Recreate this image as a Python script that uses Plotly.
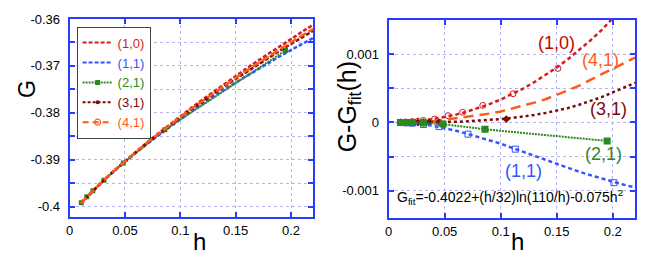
import plotly.graph_objects as go

# ---------------- data ----------------
h_grid = [0.01, 0.02, 0.03, 0.04, 0.05, 0.06, 0.07, 0.08, 0.09, 0.10, 0.11,
          0.12, 0.13, 0.14, 0.15, 0.16, 0.17, 0.18, 0.19, 0.20, 0.21, 0.22]

# left panel: G(h)
G_10 = [-0.399297, -0.396835, -0.394545, -0.392371, -0.390283, -0.388266, -0.386309,
        -0.384404, -0.382546, -0.380729, -0.378950, -0.377206, -0.375494, -0.373812,
        -0.372157, -0.370530, -0.368926, -0.367346, -0.365787, -0.364250, -0.362733, -0.361233]
G_11 = [-0.399300, -0.396857, -0.394598, -0.392471, -0.390442, -0.388501, -0.386633,
        -0.384824, -0.383075, -0.381375, -0.379732, -0.378132, -0.376574, -0.375054,
        -0.373571, -0.372125, -0.370703, -0.369314, -0.367958, -0.366633, -0.365330, -0.364055]
G_31 = [-0.399300, -0.396847, -0.394573, -0.392419, -0.390357, -0.388371, -0.386451,
        -0.384588, -0.382778, -0.381015, -0.379296, -0.377617, -0.375974, -0.374364,
        -0.372791, -0.371245, -0.369723, -0.368234, -0.366768, -0.365323, -0.363910, -0.362525]
G_41 = [-0.399300, -0.396843, -0.394563, -0.392401, -0.390322, -0.388321, -0.386378,
        -0.384504, -0.382685, -0.380905, -0.379162, -0.377462, -0.375794, -0.374164,
        -0.372561, -0.370985, -0.369443, -0.367924, -0.366438, -0.364973, -0.363550, -0.362155]
h_21 = [0.0105, 0.0155, 0.021, 0.031, 0.0485, 0.086, 0.195]
G_21 = [-0.399171, -0.397923, -0.396615, -0.394359, -0.390689, -0.383629, -0.366717]

# right panel: G - G_fit(h), smooth curves on h_grid
D_10 = [0.000003, 0.000012, 0.000028, 0.00005, 0.000079, 0.000115, 0.000159, 0.00021,
        0.000269, 0.000336, 0.000412, 0.000496, 0.00059, 0.000692, 0.000804, 0.000925,
        0.001057, 0.001198, 0.001351, 0.001513, 0.001687, 0.001872]
D_11 = [0, -0.00001, -0.000025, -0.00005, -0.00008, -0.00012, -0.000165, -0.00021,
        -0.00026, -0.00031, -0.00037, -0.00043, -0.00049, -0.00055, -0.00061, -0.00067,
        -0.00072, -0.00077, -0.00082, -0.00087, -0.00091, -0.00095]
D_31 = [0, 0, 0, 0.000002, 0.000005, 0.00001, 0.000017, 0.000026, 0.000037, 0.00005,
        0.000066, 0.000085, 0.00011, 0.00014, 0.00017, 0.00021, 0.00026, 0.00031,
        0.00037, 0.00044, 0.00051, 0.00058]
D_41 = [0, 0.000004, 0.00001, 0.00002, 0.00004, 0.00006, 0.00009, 0.00011, 0.00013,
        0.00016, 0.0002, 0.00024, 0.00029, 0.00034, 0.0004, 0.00047, 0.00054, 0.00062,
        0.0007, 0.00079, 0.00087, 0.00095]
D_21 = [0, 0, -0.000002, -0.000006, -0.000024, -0.0001, -0.00027]

# right panel: data points
hp_10 = [0.0105, 0.0155, 0.021, 0.026, 0.031, 0.041, 0.053, 0.066, 0.084, 0.111, 0.151]
dp_10 = [0.000003, 0.000007, 0.000013, 0.00002, 0.00003, 0.00005, 0.0001, 0.00015,
         0.00025, 0.00042, 0.00079]
hp_11 = [0.0105, 0.0155, 0.021, 0.031, 0.045, 0.0708, 0.113, 0.201]
dp_11 = [0, -0.000005, -0.00001, -0.00003, -0.00006, -0.00017, -0.00039, -0.00088]
hp_31 = [0.0105, 0.0155, 0.021, 0.026, 0.031, 0.036, 0.045, 0.105]
dp_31 = [0, 0, 0, 0, 0, 0.000001, 0.000003, 0.00005]
hp_41 = [0.0105, 0.021, 0.031]
dp_41 = [0, 0.000003, 0.000008]

names = ["(1,0)", "(1,1)", "(2,1)", "(3,1)", "(4,1)"]
x_ticks = [0, 0.05, 0.1, 0.15, 0.2]
x_ticktext = ["0", "0.05", "0.1", "0.15", "0.2"]
yl_ticks = [-0.4, -0.39, -0.38, -0.37, -0.36]
yl_ticktext = ["-0.4", "-0.39", "-0.38", "-0.37", "-0.36"]
yr_ticks = [-0.001, 0, 0.001]
yr_ticktext = ["-0.001", "0", "0.001"]
formula = "G<sub>fit</sub>=-0.4022+(h/32)ln(110/h)-0.075h<sup>2</sup>"

# ---------------- style ----------------
FONT = "Liberation Sans, Arial, sans-serif"
BLUE = "#2a3cff"
GRID = "#b4b4f0"
C10, C11, C21, C31, C41 = "#d71c1c", "#3355ff", "#2a8a1e", "#7d0a0a", "#ff5a1e"
OFF = 8                     # page body margin in the browser
W, H = 664 - OFF, 263 - OFF


def fx(px):  # window pixel -> paper fraction
    return (px - OFF) / W


def fy(py):
    return 1 - (py - OFF) / H


fig = go.Figure()

# ---- left panel ----
fig.add_trace(go.Scatter(x=h_grid, y=G_10, mode="lines", showlegend=False,
                         line=dict(color=C10, width=2.5, dash="4px,2px"), xaxis="x", yaxis="y"))
fig.add_trace(go.Scatter(x=h_grid, y=G_11, mode="lines", showlegend=False,
                         line=dict(color=C11, width=2.5, dash="4px,2px"), xaxis="x", yaxis="y"))
fig.add_trace(go.Scatter(x=h_21, y=G_21, mode="lines+markers", showlegend=False,
                         line=dict(color=C21, width=2, dash="2px,1px"),
                         marker=dict(symbol="square", size=5, color=C21), xaxis="x", yaxis="y"))
fig.add_trace(go.Scatter(x=h_grid, y=G_31, mode="lines", showlegend=False,
                         line=dict(color=C31, width=2.5, dash="4px,2px"), xaxis="x", yaxis="y"))
fig.add_trace(go.Scatter(x=h_grid, y=G_41, mode="lines", showlegend=False,
                         line=dict(color=C41, width=2.5, dash="8px,3px"), xaxis="x", yaxis="y"))

# legend entries
leg_specs = [
    (names[0], C10, "4px,2px", "lines", None),
    (names[1], C11, "4px,2px", "lines", None),
    (names[2], C21, "2px,1px", "lines+markers", dict(symbol="square", size=5, color=C21)),
    (names[3], C31, "3px,2px", "lines+markers", dict(symbol="circle", size=4, color=C31)),
    (names[4], C41, "6px,4px", "lines+markers",
     dict(symbol="circle-open", size=6, color=C41, line=dict(width=1.2))),
]
for nm, col, dsh, md, mk in leg_specs:
    kw = dict(marker=mk) if mk else {}
    fig.add_trace(go.Scatter(x=[None], y=[None], mode=md,
                             name=f'<span style="color:{col}">{nm}</span>',
                             line=dict(color=col, width=2, dash=dsh), xaxis="x", yaxis="y", **kw))

# ---- right panel ----
fig.add_trace(go.Scatter(x=h_grid, y=D_10, mode="lines", showlegend=False,
                         line=dict(color=C10, width=2.5, dash="4px,3px"), xaxis="x2", yaxis="y2"))
fig.add_trace(go.Scatter(x=hp_10, y=dp_10, mode="markers", showlegend=False,
                         marker=dict(symbol="circle-open", size=6, color=C10, line=dict(width=1)),
                         xaxis="x2", yaxis="y2"))
fig.add_trace(go.Scatter(x=h_grid, y=D_41, mode="lines", showlegend=False,
                         line=dict(color=C41, width=2.5, dash="10px,6px"), xaxis="x2", yaxis="y2"))
fig.add_trace(go.Scatter(x=hp_41, y=dp_41, mode="markers", showlegend=False,
                         marker=dict(symbol="circle-open", size=6, color=C41, line=dict(width=1)),
                         xaxis="x2", yaxis="y2"))
fig.add_trace(go.Scatter(x=h_grid, y=D_31, mode="lines", showlegend=False,
                         line=dict(color=C31, width=2.5, dash="3px,3px"), xaxis="x2", yaxis="y2"))
fig.add_trace(go.Scatter(x=hp_31, y=dp_31, mode="markers", showlegend=False,
                         marker=dict(symbol="diamond", size=6, color=C31),
                         xaxis="x2", yaxis="y2"))
fig.add_trace(go.Scatter(x=h_grid, y=D_11, mode="lines", showlegend=False,
                         line=dict(color=C11, width=2.5, dash="4px,3px"), xaxis="x2", yaxis="y2"))
fig.add_trace(go.Scatter(x=hp_11, y=dp_11, mode="markers", showlegend=False,
                         marker=dict(symbol="square-open", size=6, color=C11, line=dict(width=1)),
                         xaxis="x2", yaxis="y2"))
fig.add_trace(go.Scatter(x=h_21, y=D_21, mode="lines+markers", showlegend=False,
                         line=dict(color=C21, width=2, dash="2px,1px"),
                         marker=dict(symbol="square", size=7, color=C21),
                         xaxis="x2", yaxis="y2"))


# ---------------- axes ----------------
def axis_common():
    return dict(showline=True, linecolor=BLUE, linewidth=2, mirror="ticks",
                ticks="inside", ticklen=5, tickcolor=BLUE, tickwidth=1.5,
                showgrid=True, gridcolor=GRID, griddash="dot", gridwidth=1,
                zeroline=False, ticklabeloverflow="allow",
                tickfont=dict(family=FONT, size=13, color="black"))


xl = axis_common()
xl.update(domain=[fx(66), fx(311)], range=[0, 0.22], tickmode="array",
          tickvals=x_ticks, ticktext=x_ticktext, anchor="y")
yl = axis_common()
yl.update(domain=[fy(216), fy(12)], range=[-0.40228, -0.35999], tickmode="array",
          tickvals=yl_ticks, ticktext=yl_ticktext, anchor="x", ticklabelstandoff=5,
          minor=dict(tickmode="linear", tick0=-0.4, dtick=0.005, ticks="inside", ticklen=5,
                     tickcolor=BLUE, showgrid=True, gridcolor=GRID, griddash="dot"))
xr = axis_common()
xr.update(domain=[fx(387), fx(635)], range=[0, 0.22], tickmode="array",
          tickvals=x_ticks, ticktext=x_ticktext, anchor="y2")
yr = axis_common()
yr.update(domain=[fy(217), fy(13)], range=[-0.0014, 0.0015], tickmode="array",
          tickvals=yr_ticks, ticktext=yr_ticktext, anchor="x2", ticklabelstandoff=5,
          minor=dict(tickmode="linear", tick0=0, dtick=0.0005, ticks="inside", ticklen=5,
                     tickcolor=BLUE, showgrid=True, gridcolor=GRID, griddash="dot"))

ann = []
# axis titles
ann.append(dict(text="G", x=0, y=fy(84), xref="paper", yref="paper", textangle=-90,
                showarrow=False, font=dict(family=FONT, size=23, color="black"),
                xanchor="left", yanchor="middle"))
ann.append(dict(text="h", x=fx(197), y=fy(241), xref="paper", yref="paper",
                showarrow=False, font=dict(family=FONT, size=24, color="black"),
                xanchor="center", yanchor="middle"))
ann.append(dict(text="G-G<sub>fit</sub>(h)", x=fx(347), y=fy(102), xref="paper", yref="paper",
                textangle=-90, showarrow=False, font=dict(family=FONT, size=25, color="black"),
                xanchor="center", yanchor="middle"))
ann.append(dict(text="h", x=fx(517), y=fy(241), xref="paper", yref="paper",
                showarrow=False, font=dict(family=FONT, size=24, color="black"),
                xanchor="center", yanchor="middle"))
# series labels on right panel
lab = [("(1,0)", 0.1498, 0.001167, "#c80000"),
       ("(4,1)", 0.1889, 0.000908, C41),
       ("(3,1)", 0.1964, 0.000199, C31),
       ("(2,1)", 0.1914, -0.000464, C21),
       ("(1,1)", 0.1203, -0.000705, C11)]
for t, xx, yy, c in lab:
    ann.append(dict(text=t, x=xx, y=yy, xref="x2", yref="y2", showarrow=False,
                    font=dict(family=FONT, size=18, color=c), xanchor="center", yanchor="middle"))
ann.append(dict(text=formula, x=0.0053, y=-0.00109, xref="x2", yref="y2", showarrow=False,
                font=dict(family=FONT, size=14, color="black"), xanchor="left", yanchor="middle"))

fig.update_layout(
    width=W, height=H, margin=dict(l=0, r=0, t=0, b=0),
    paper_bgcolor="white", plot_bgcolor="white",
    xaxis=xl, yaxis=yl, xaxis2=xr, yaxis2=yr,
    annotations=ann,
    legend=dict(x=fx(73), y=fy(20), xanchor="left", yanchor="top",
                bgcolor="white", bordercolor="#444444", borderwidth=1,
                font=dict(family=FONT, size=13), tracegroupgap=0, itemwidth=30),
    font=dict(family=FONT),
)

fig.write_html("out.html")
